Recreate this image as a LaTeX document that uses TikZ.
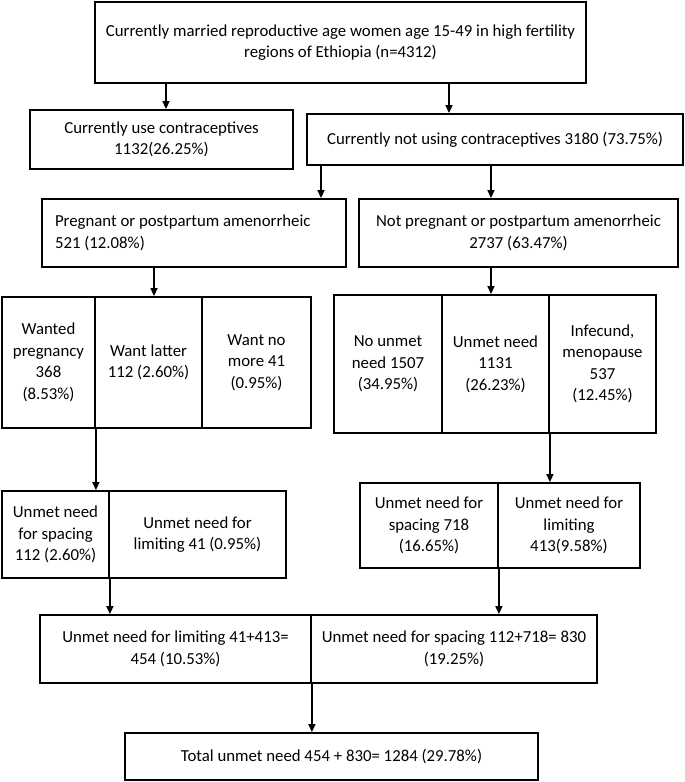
\documentclass[tikz,border=0pt]{standalone}
\usepackage{fontspec}
\setmainfont{Carlito}
\usetikzlibrary{arrows.meta}

\tikzset{
  box/.style={draw, line width=1.8pt, align=center, inner sep=2pt,
    font=\fontsize{16.8}{21.5}\selectfont},
  arr/.style={line width=1.4pt, -{Triangle[length=8pt,width=7pt]}}
}

\begin{document}
\begin{tikzpicture}[x=1pt, y=-1pt]
    \useasboundingbox (0,0) rectangle (685,782);
    % top level
    \node[box, minimum width=491pt, minimum height=81pt] (women) at (340.5,42.5)
          {Currently married reproductive age women age 15-49 in high fertility\\ regions of Ethiopia (n=4312)};
    \node[box, minimum width=263pt, minimum height=59pt] (use) at (161.5,139.5)
          {Currently use contraceptives\\ 1132(26.25\%)};
    \node[box, minimum width=376pt, minimum height=51pt] (notuse) at (495,139.5)
          {Currently not using contraceptives 3180 (73.75\%)};
    \node[box, text width=278pt, inner xsep=13pt, align=flush left, minimum height=68pt] (preg) at (194,233)
          {Pregnant or postpartum amenorrheic\\ 521 (12.08\%)};
    \node[box, minimum width=319pt, minimum height=68pt] (notpreg) at (518.5,233)
          {Not pregnant or postpartum amenorrheic\\ 2737 (63.47\%)};
    % pregnant row
    \node[box, minimum width=93pt, minimum height=131pt] (wanted) at (48.5,362.5)
          {Wanted\\ pregnancy\\ 368\\ (8.53\%)};
    \node[box, minimum width=107pt, minimum height=131pt] (later) at (148.5,362.5)
          {Want latter\\ 112 (2.60\%)};
    \node[box, minimum width=109pt, minimum height=131pt] (nomore) at (256.5,362.5)
          {Want no\\ more 41\\ (0.95\%)};
    % not pregnant row
    \node[box, minimum width=108pt, minimum height=138pt] (nounmet) at (388,364)
          {No unmet\\ need 1507\\ (34.95\%)};
    \node[box, minimum width=107pt, minimum height=138pt] (unmet) at (495.5,364)
          {Unmet need\\ 1131\\ (26.23\%)};
    \node[box, minimum width=107pt, minimum height=138pt] (infec) at (602.5,364)
          {Infecund,\\ menopause\\ 537\\ (12.45\%)};
    % unmet need split
    \node[box, minimum width=107pt, minimum height=87pt] (lspace) at (55.5,534.5)
          {Unmet need\\ for spacing\\ 112 (2.60\%)};
    \node[box, minimum width=177pt, minimum height=87pt] (llimit) at (197.5,534.5)
          {Unmet need for\\ limiting 41 (0.95\%)};
    \node[box, minimum width=138pt, minimum height=85pt] (rspace) at (429,525.5)
          {Unmet need for\\ spacing 718\\ (16.65\%)};
    \node[box, minimum width=142pt, minimum height=85pt] (rlimit) at (569,525.5)
          {Unmet need for\\ limiting\\ 413(9.58\%)};
    % combined and total
    \node[box, minimum width=271pt, minimum height=68pt] (climit) at (175.5,649)
          {Unmet need for limiting 41+413=\\ 454 (10.53\%)};
    \node[box, minimum width=286pt, minimum height=68pt] (cspace) at (454,649)
          {Unmet need for spacing 112+718= 830\\ (19.25\%)};
    \node[box, minimum width=413pt, minimum height=47pt] (total) at (331.5,756.5)
          {Total unmet need 454 + 830= 1284 (29.78\%)};
    % connectors
    \draw[arr] ([xshift=4.5pt]use.north |- women.south) -- ([xshift=4.5pt]use.north);
    \draw[arr] ([xshift=-46pt]notuse.north |- women.south) -- ([xshift=-46pt]notuse.north);
    \draw[arr] ([xshift=127pt]preg.north |- notuse.south) -- ([xshift=127pt]preg.north);
    \draw[arr] ([xshift=-27.5pt]notpreg.north |- notuse.south) -- ([xshift=-27.5pt]notpreg.north);
    \draw[arr] ([xshift=5.5pt]later.north |- preg.south) -- ([xshift=5.5pt]later.north);
    \draw[arr] ([xshift=-4.5pt]unmet.north |- notpreg.south) -- ([xshift=-4.5pt]unmet.north);
    \draw[arr] (wanted.south east) -- (wanted.south east |- lspace.north);
    \draw[arr] (unmet.south east) -- (unmet.south east |- rlimit.north);
    \draw[arr] (lspace.south east) -- (lspace.south east |- climit.north);
    \draw[arr] (rspace.south east) -- (rspace.south east |- cspace.north);
    \draw[arr] (climit.south east) -- (climit.south east |- total.north);
  \end{tikzpicture}
\end{document}
